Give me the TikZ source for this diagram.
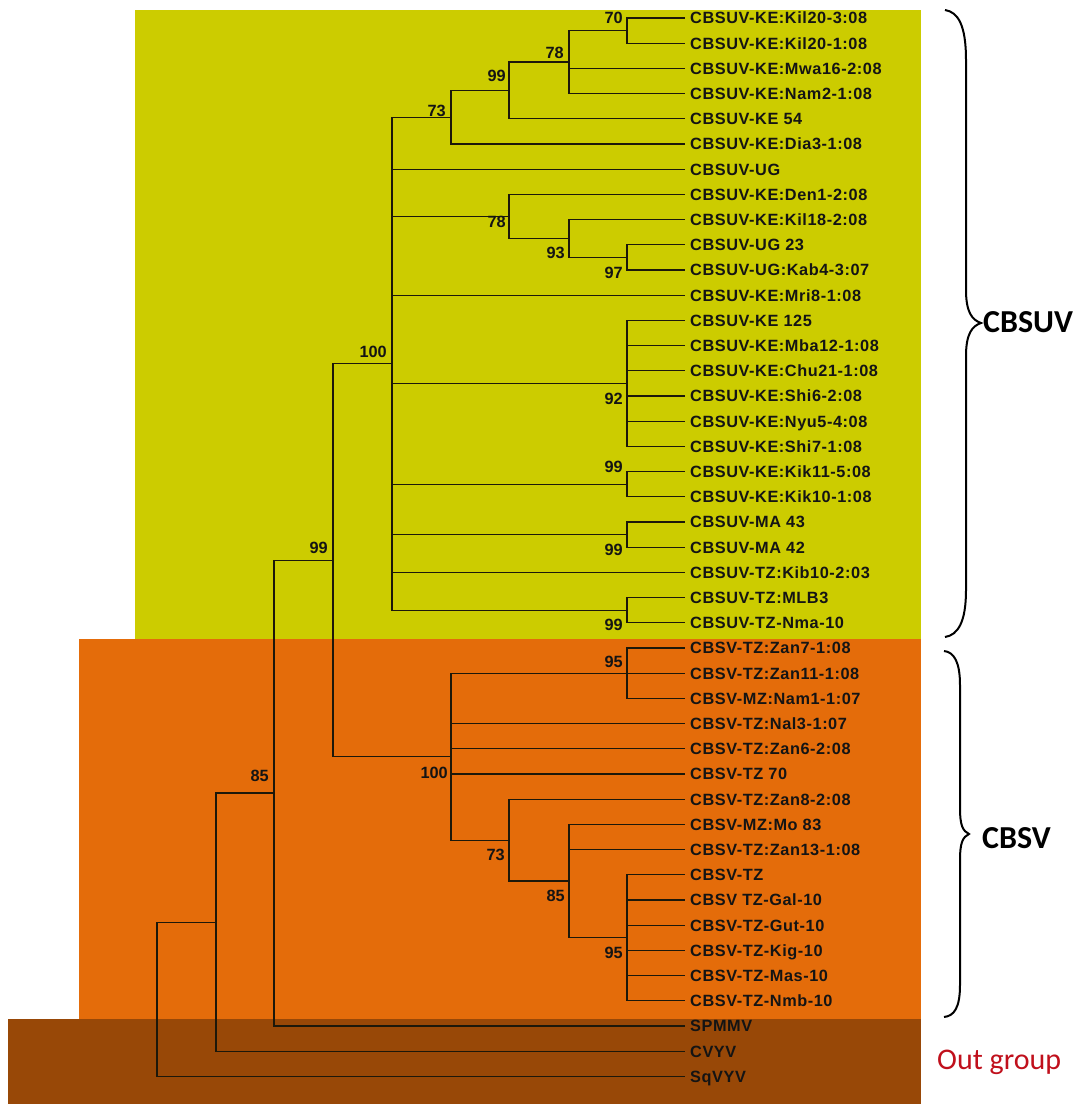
\documentclass[tikz,border=0pt]{standalone}
\usepackage{fontspec}
\setsansfont{Liberation Sans}
\newfontfamily\leaffont{Liberation Sans}[LetterSpace=3.5]
\newfontfamily\calib{Carlito}
\definecolor{ybg}{RGB}{204,204,0}
\definecolor{obg}{RGB}{228,108,10}
\definecolor{bbg}{RGB}{152,72,7}
\definecolor{outred}{RGB}{192,16,28}
\definecolor{treeline}{RGB}{28,24,10}
\tikzset{
  branch/.style={draw=treeline, line width=1.3pt},
  leaflab/.style={anchor=west, inner sep=0pt, xshift=5pt, text=black!92,
    font=\leaffont\bfseries\fontsize{16.3}{16.3}\selectfont, text height=11.7pt, text depth=0pt},
  boot/.style={anchor=east, inner sep=0pt, text=black!92,
    font=\sffamily\bfseries\fontsize{16.3}{16.3}\selectfont, text height=11.7pt, text depth=0pt},
  bracestyle/.style={draw=black, line width=2pt},
  cladelab/.style={anchor=west, inner sep=0pt, font=\calib\bfseries\fontsize{32}{32}\selectfont, text height=20.2pt, text depth=0pt},
  outlab/.style={anchor=west, inner sep=0pt, text=outred, font=\calib\fontsize{30}{30}\selectfont, text height=19pt, text depth=0pt},
}
\newcommand\leaf[3]{%
  \coordinate (#1) at (685,{18+25.2*(#2-1)});
  \node[leaflab] (#1t) at (#1) {#3};}
\newcommand\bootlab[4]{\node[boot] (b#1) at ([shift={(#2,#3)}]#1) {#4};}
\begin{document}
\begin{tikzpicture}[x=1pt,y=-1pt]
\useasboundingbox (0,0) rectangle (1088,1104);
% background bands
\fill[ybg] (135,10) rectangle (921,639);
\fill[obg] (79,639) rectangle (921,1019);
\fill[bbg] (8,1019) rectangle (921,1104);
% leaves
\leaf{L1}{1}{CBSUV-KE:Kil20-3:08}
\leaf{L2}{2}{CBSUV-KE:Kil20-1:08}
\leaf{L3}{3}{CBSUV-KE:Mwa16-2:08}
\leaf{L4}{4}{CBSUV-KE:Nam2-1:08}
\leaf{L5}{5}{CBSUV-KE 54}
\leaf{L6}{6}{CBSUV-KE:Dia3-1:08}
\leaf{L7}{7}{CBSUV-UG}
\leaf{L8}{8}{CBSUV-KE:Den1-2:08}
\leaf{L9}{9}{CBSUV-KE:Kil18-2:08}
\leaf{L10}{10}{CBSUV-UG 23}
\leaf{L11}{11}{CBSUV-UG:Kab4-3:07}
\leaf{L12}{12}{CBSUV-KE:Mri8-1:08}
\leaf{L13}{13}{CBSUV-KE 125}
\leaf{L14}{14}{CBSUV-KE:Mba12-1:08}
\leaf{L15}{15}{CBSUV-KE:Chu21-1:08}
\leaf{L16}{16}{CBSUV-KE:Shi6-2:08}
\leaf{L17}{17}{CBSUV-KE:Nyu5-4:08}
\leaf{L18}{18}{CBSUV-KE:Shi7-1:08}
\leaf{L19}{19}{CBSUV-KE:Kik11-5:08}
\leaf{L20}{20}{CBSUV-KE:Kik10-1:08}
\leaf{L21}{21}{CBSUV-MA 43}
\leaf{L22}{22}{CBSUV-MA 42}
\leaf{L23}{23}{CBSUV-TZ:Kib10-2:03}
\leaf{L24}{24}{CBSUV-TZ:MLB3}
\leaf{L25}{25}{CBSUV-TZ-Nma-10}
\leaf{L26}{26}{CBSV-TZ:Zan7-1:08}
\leaf{L27}{27}{CBSV-TZ:Zan11-1:08}
\leaf{L28}{28}{CBSV-MZ:Nam1-1:07}
\leaf{L29}{29}{CBSV-TZ:Nal3-1:07}
\leaf{L30}{30}{CBSV-TZ:Zan6-2:08}
\leaf{L31}{31}{CBSV-TZ 70}
\leaf{L32}{32}{CBSV-TZ:Zan8-2:08}
\leaf{L33}{33}{CBSV-MZ:Mo 83}
\leaf{L34}{34}{CBSV-TZ:Zan13-1:08}
\leaf{L35}{35}{CBSV-TZ}
\leaf{L36}{36}{CBSV TZ-Gal-10}
\leaf{L37}{37}{CBSV-TZ-Gut-10}
\leaf{L38}{38}{CBSV-TZ-Kig-10}
\leaf{L39}{39}{CBSV-TZ-Mas-10}
\leaf{L40}{40}{CBSV-TZ-Nmb-10}
\leaf{L41}{41}{SPMMV}
\leaf{L42}{42}{CVYV}
\leaf{L43}{43}{SqVYV}
% internal nodes
\coordinate (n70) at (627,30.6);
\coordinate (n78a) at (569,62.1);
\coordinate (n99a) at (509,90.45);
\coordinate (n73) at (451,117.2);
\coordinate (n97) at (627,257.4);
\coordinate (n93) at (569,238.5);
\coordinate (n78b) at (509,216.45);
\coordinate (n92) at (627,383.4);
\coordinate (n99b) at (627,484.2);
\coordinate (n99c) at (627,534.6);
\coordinate (n99d) at (627,610.2);
\coordinate (n100a) at (392,363.7);
\coordinate (n95a) at (627,673.2);
\coordinate (n95b) at (627,937.8);
\coordinate (n85) at (569,881.1);
\coordinate (n73b) at (509,840.15);
\coordinate (n100b) at (451,756.7);
\coordinate (n99e) at (333,560.2);
\coordinate (n85c) at (274,793.1);
\coordinate (nX) at (216,922.15);
\coordinate (root) at (157,999.3);
% branches
\foreach \p/\c in {n70/L1,n70/L2,
  n78a/n70,n78a/L3,n78a/L4,
  n99a/n78a,n99a/L5,
  n73/n99a,n73/L6,
  n97/L10,n97/L11,
  n93/L9,n93/n97,
  n78b/L8,n78b/n93,
  n92/L13,n92/L14,n92/L15,n92/L16,n92/L17,n92/L18,
  n99b/L19,n99b/L20,
  n99c/L21,n99c/L22,
  n99d/L24,n99d/L25,
  n100a/n73,n100a/L7,n100a/n78b,n100a/L12,n100a/n92,n100a/n99b,n100a/n99c,n100a/L23,n100a/n99d,
  n95a/L26,n95a/L27,n95a/L28,
  n95b/L35,n95b/L36,n95b/L37,n95b/L38,n95b/L39,n95b/L40,
  n85/L33,n85/L34,n85/n95b,
  n73b/L32,n73b/n85,
  n100b/n95a,n100b/L29,n100b/L30,n100b/L31,n100b/n73b,
  n99e/n100a,n99e/n100b,
  n85c/n99e,n85c/L41,
  nX/n85c,nX/L42,
  root/nX,root/L43}
  \draw[branch] (\p) |- (\c);
% bootstrap values
\bootlab{n70}{-4}{-12.6}{70}
\bootlab{n78a}{-5}{-9}{78}
\bootlab{n99a}{-3}{-14.5}{99}
\bootlab{n73}{-5}{-7}{73}
\bootlab{n78b}{-3}{5.5}{78}
\bootlab{n93}{-4}{14.5}{93}
\bootlab{n97}{-4}{15.6}{97}
\bootlab{n92}{-4}{15.6}{92}
\bootlab{n99b}{-4}{-18}{99}
\bootlab{n99c}{-4}{15}{99}
\bootlab{n99d}{-4}{14}{99}
\bootlab{n100a}{-5}{-12}{100}
\bootlab{n99e}{-5}{-13}{99}
\bootlab{n85c}{-5}{-17}{85}
\bootlab{n95a}{-4}{-12}{95}
\bootlab{n100b}{-3}{15.5}{100}
\bootlab{n73b}{-4}{14}{73}
\bootlab{n85}{-4}{14.5}{85}
\bootlab{n95b}{-4}{14.7}{95}
% braces
\draw[bracestyle] (945,10) .. controls (958,12) and (966,25) .. (966,60) -- (966,290)
  .. controls (966,312) and (972,320) .. (981,323)
  .. controls (972,326) and (966,334) .. (966,356) -- (966,590)
  .. controls (966,622) and (958,635) .. (945,637);
\draw[bracestyle] (944,651) .. controls (954,652) and (960,662) .. (960,685) -- (960,808)
  .. controls (960,826) and (963,831) .. (969,834)
  .. controls (963,837) and (960,842) .. (960,860) -- (960,985)
  .. controls (960,1008) and (954,1016) .. (944,1017);
\node[cladelab] (cbsuv) at (983,322) {CBSUV};
\node[cladelab] (cbsv) at (982,838) {CBSV};
\node[outlab] (outg) at (937,1060) {Out group};
\end{tikzpicture}
\end{document}
